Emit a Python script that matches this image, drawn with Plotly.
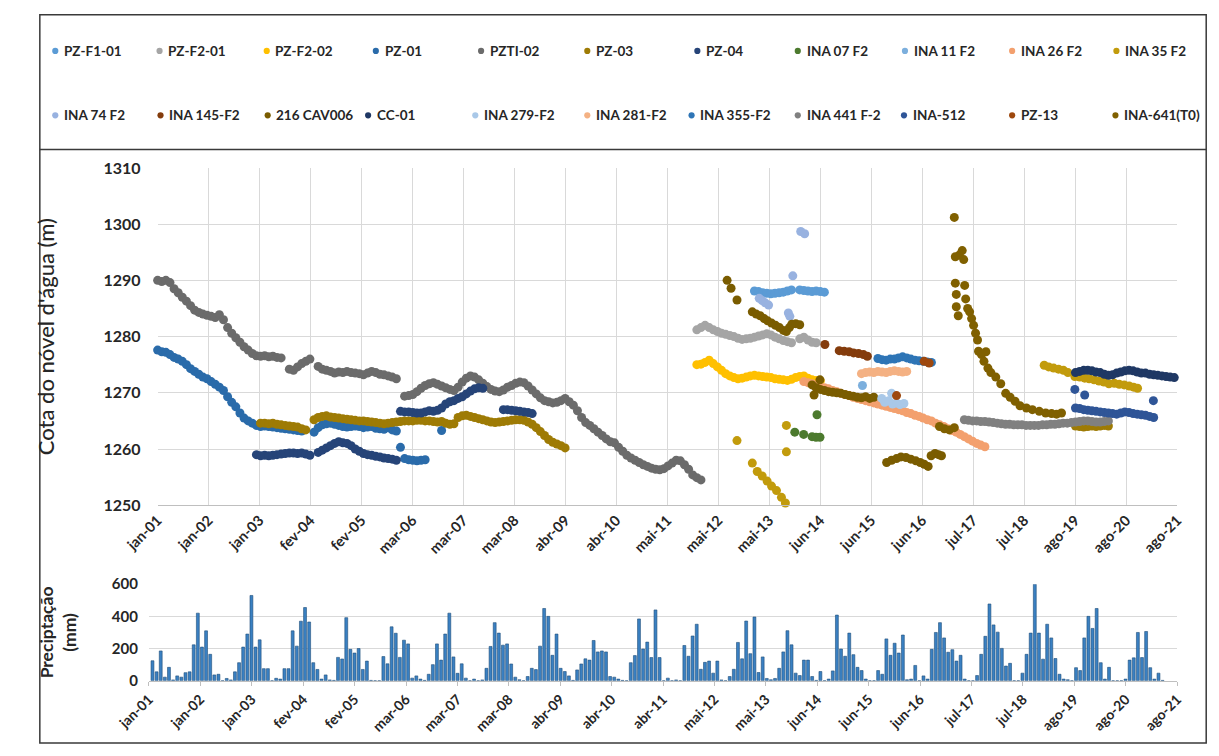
import numpy as np
import plotly.graph_objects as go

# ---------------- axis labels ----------------
level_ticks = ["jan-01", "jan-02", "jan-03", "fev-04", "fev-05", "mar-06", "mar-07",
               "mar-08", "abr-09", "abr-10", "mai-11", "mai-12", "mai-13", "jun-14",
               "jun-15", "jun-16", "jul-17", "jul-18", "ago-19", "ago-20", "ago-21"]
rain_ticks = ["jan-01", "jan-02", "jan-03", "fev-04", "fev-05", "mar-06", "mar-07",
              "mar-08", "abr-09", "abr-10", "abr-11", "mai-12", "mai-13", "jun-14",
              "jun-15", "jun-16", "jul-17", "jul-18", "ago-19", "ago-20", "ago-21"]

# ---------------- water level series (decimal years, metres) ----------------
# monthly blocks: (first month as decimal year, monthly readings; None = no reading)
pzti02_start = 2001.010
pzti02 = [1290.0, 1289.8, 1290.0, 1289.6, 1288.5, 1287.8, 1287.0, 1286.3, 1285.5, 1284.7,
          1284.3, 1284.0, 1283.8, 1283.6, 1283.4, 1283.9, 1283.0, 1281.6, 1280.6, 1279.8,
          1279.0, 1278.2, 1277.6, 1277.0, 1276.6, 1276.5, 1276.6, 1276.4, 1276.5, 1276.3,
          1276.2, None, 1274.2, 1274.0, 1274.6, 1275.2, 1275.6, 1276.0, None, 1274.7,
          1274.2, 1274.0, 1273.8, 1273.5, 1273.7, 1273.6, 1273.8, 1273.6, 1273.5, 1273.4,
          1273.2, 1273.5, 1273.8, 1273.6, 1273.3, 1273.2, 1273.0, 1272.8, 1272.5, None,
          1269.4, 1269.5, 1269.7, 1270.2, 1270.8, 1271.3, 1271.6, 1271.8, 1271.5, 1271.2,
          1270.9, 1270.6, 1270.4, 1271.0, 1271.9, 1272.6, 1273.0, 1272.8, 1272.3, 1271.7,
          1271.1, 1270.6, 1270.3, 1270.2, 1270.5, 1271.0, 1271.3, 1271.7, 1271.9, 1271.8,
          1271.2, 1270.5, 1269.8, 1269.1, 1268.6, 1268.4, 1268.2, 1268.3, 1268.6, 1269.0,
          1268.4, 1267.8, 1266.8, 1265.6, 1264.7, 1264.2, 1263.6, 1263.0, 1262.4, 1261.8,
          1261.3, 1261.1, 1260.3, 1259.6, 1258.9, 1258.4, 1258.0, 1257.6, 1257.2, 1256.9,
          1256.6, 1256.4, 1256.3, 1256.5, 1257.0, 1257.5, 1258.0, 1257.9, 1257.2, 1256.4,
          1255.4, 1254.9, 1254.5]

pz01_start = 2001.010
pz01 = [1277.6, 1277.3, 1277.2, 1276.8, 1276.3, 1276.0, 1275.6, 1275.0, 1274.3, 1273.8,
        1273.3, 1272.8, 1272.5, 1272.0, 1271.5, 1271.0, 1270.4, 1269.3, 1268.3, 1267.5,
        1266.4, 1265.5, 1265.0, 1264.6, 1264.2, 1264.0, 1264.1, 1264.0, 1263.9, 1263.8,
        1263.7, 1263.6, 1263.5, 1263.4, 1263.3, 1263.2, None, None, 1263.0, 1263.8,
        1264.3, 1264.5, 1264.6, 1264.4, 1264.2, 1264.0, 1263.9, 1264.0, 1264.1, 1264.0,
        1263.8, 1263.9, 1264.0, 1263.7, 1263.6, 1263.5, 1263.8, 1263.4, 1263.2, 1260.3,
        1258.3, 1258.1, 1258.0, 1257.9, 1258.0, 1258.1, None, None, None, 1263.3]

pz04_start = 2003.010
pz04 = [1259.0, 1258.8, 1258.9, 1258.8, 1258.9, 1259.0, 1259.1, 1259.2, 1259.3, 1259.3,
        1259.2, 1259.3, 1259.1, 1258.9, None, 1259.4, 1259.8, 1260.2, 1260.6, 1261.0,
        1261.3, 1261.1, 1261.0, 1260.6, 1260.0, 1259.6, 1259.2, 1259.0, 1258.9, 1258.7,
        1258.6, 1258.4, 1258.3, 1258.2, 1258.0, 1266.7, 1266.6, 1266.6, 1266.5, 1266.4,
        1266.4, 1266.6, 1266.8, 1266.7, 1266.9, 1267.3, 1268.0, 1268.4, 1268.6, 1269.0,
        1269.3, 1269.8, 1270.3, 1270.7, 1270.9, 1270.8, None, None, None, None,
        1267.0, 1267.0, 1266.9, 1266.8, 1266.7, 1266.6, 1266.5, 1266.3]

pz03_start = 2003.093
pz03 = [1264.6, 1264.6, 1264.5, 1264.6, 1264.4, 1264.3, 1264.2, 1264.1, 1264.0, 1263.9,
        1263.6, 1263.4, None, 1265.2, 1265.6, 1265.8, 1265.9, 1265.7, 1265.6, 1265.5,
        1265.4, 1265.3, 1265.2, 1265.1, 1265.0, 1265.0, 1264.9, 1264.8, 1264.7, 1264.6,
        1264.5, 1264.6, 1264.7, 1264.8, 1264.9, 1265.0, 1265.0, 1265.0, 1265.1, 1265.1,
        1265.0, 1265.0, 1264.9, 1264.8, 1264.9, 1264.6, 1264.4, 1264.5, 1265.6, 1265.9,
        1266.0, 1265.8, 1265.6, 1265.4, 1265.2, 1265.0, 1264.8, 1264.7, 1264.8, 1264.9,
        1265.0, 1265.1, 1265.2, 1265.2, 1265.1, 1264.8, 1264.4, 1263.8, 1263.1, 1262.4,
        1261.7, 1261.2, 1260.9, 1260.6, 1260.2]
pz03_late_start = 2019.593
pz03_late = [1264.1, 1264.0, 1263.9, 1264.0, 1264.1, 1264.0, 1264.1, 1264.2, 1264.1]

pzf201_start = 2011.927
pzf201 = [1281.2, 1281.6, 1282.0, 1281.6, 1281.2, 1280.9, 1280.6, 1280.4, 1280.2, 1280.0,
          1279.7, 1279.5, 1279.6, 1279.7, 1279.9, 1280.1, 1280.3, 1280.5, 1280.3, 1279.9,
          1279.6, 1279.3, 1279.1, 1278.9, None, 1279.6, 1279.9, 1279.4, 1279.0, 1278.9]

pzf202_start = 2011.927
pzf202 = [1275.0, 1275.1, 1275.4, 1275.8, 1275.2, 1274.6, 1274.0, 1273.4, 1273.0, 1272.7,
          1272.5, 1272.6, 1272.8, 1273.0, 1273.1, 1273.0, 1272.9, 1272.8, 1272.7, 1272.5,
          1272.4, 1272.3, 1272.2, 1272.4, 1272.7, 1272.9, 1273.0, 1272.6, 1272.3, 1272.2,
          1272.1]

pzf101_start = 2013.093
pzf101 = [1288.1, 1288.0, 1287.8, 1287.7, 1287.6, 1287.7, 1287.8, 1287.9, 1288.1, 1288.3,
          None, 1288.3, 1288.2, 1288.1, 1288.0, 1288.1, 1288.0, 1287.9]

ina26_start = 2014.093
ina26 = [1272.0, 1271.8, 1271.6, 1271.3, 1271.1, 1270.9, 1270.7, 1270.4, 1270.2, 1269.9,
         1269.7, 1269.5, 1269.2, 1269.0, 1268.8, 1268.6, 1268.4, 1268.2, 1268.0, 1267.8,
         1267.6, 1267.4, 1267.2, 1267.0, 1266.8, 1266.5, 1266.3, 1266.0, 1265.8, 1265.5,
         1265.2, 1265.0, 1264.6, 1264.3, 1264.0, 1263.6, 1263.3, 1263.0, 1262.6, 1262.2,
         1261.8, 1261.4, 1261.0, 1260.7, 1260.4]

cav_mid_start = 2014.260
cav_mid = [1271.4, 1270.9, 1270.6, 1270.4, 1270.2, 1270.1, 1270.0, 1269.9, 1269.7, 1269.5,
           1269.4, 1269.2, 1269.1, 1269.3, 1269.0, 1269.2]

ina281_start = 2015.260
ina281 = [1273.4, 1273.6, 1273.7, 1273.6, 1273.8, 1273.7, 1273.6, 1273.8, 1273.9, 1273.8,
          1273.7, 1273.8]

ina355_start = 2015.593
ina355 = [1276.1, 1275.9, 1275.8, 1276.0, 1276.0, 1276.2, 1276.4, 1276.2, 1276.0, 1275.8,
          1275.7, 1275.6, 1275.5, 1275.4]

ina441_start = 2017.343
ina441 = [1265.2, 1265.1, 1265.0, 1265.0, 1264.9, 1264.9, 1264.8, 1264.7, 1264.6, 1264.5,
          1264.4, 1264.4, 1264.3, 1264.3, 1264.3, 1264.2, 1264.2, 1264.2, 1264.2, 1264.3,
          1264.3, 1264.4, 1264.4, 1264.5, 1264.6, 1264.6, 1264.7, 1264.8, 1264.9, 1265.0,
          1265.0, 1264.9, 1264.8, 1264.8, 1264.9, 1265.0]

cc01_start = 2019.593
cc01 = [1273.6, 1273.8, 1274.0, 1274.0, 1273.9, 1273.7, 1273.6, 1273.3, 1273.1, 1273.2,
        1273.5, 1273.7, 1273.9, 1274.0, 1273.9, 1273.7, 1273.5, 1273.5, 1273.3, 1273.2,
        1273.1, 1273.0, 1272.9, 1272.8, 1272.7]

ina512_start = 2019.593
ina512 = [1267.3, 1267.2, 1267.0, 1266.9, 1266.8, 1266.7, 1266.6, 1266.5, 1266.4, 1266.3,
          1266.2, 1266.4, 1266.6, 1266.5, 1266.3, 1266.2, 1266.1, 1266.0, 1265.8, 1265.6]

# individual readings: (decimal years, metres)
ina512_pts_t = [2019.58, 2019.78, 2021.17]
ina512_pts = [1270.6, 1269.6, 1268.6]

cav_a_t = [2012.54, 2012.62, 2012.74, 2013.05, 2013.13, 2013.21, 2013.29, 2013.36, 2013.44,
           2013.52, 2013.60, 2013.68, 2013.74, 2013.80, 2013.85, 2013.93, 2014.01]
cav_a = [1290.0, 1288.6, 1286.5, 1284.4, 1284.0, 1283.7, 1283.2, 1282.8, 1282.4,
         1282.0, 1281.6, 1281.1, 1280.9, 1281.6, 1282.2, 1282.3, 1282.1]
cav_b_t = [2014.30, 2014.42]
cav_b = [1269.6, 1272.3]
cav_c_t = [2015.77, 2015.87, 2015.97, 2016.06, 2016.16, 2016.26, 2016.36, 2016.45, 2016.53,
           2016.61, 2016.67, 2016.75, 2016.82, 2016.88]
cav_c = [1257.6, 1258.0, 1258.3, 1258.6, 1258.5, 1258.2, 1257.9, 1257.6, 1257.3,
         1256.9, 1258.8, 1259.2, 1259.0, 1258.8]

ina641_t = [2016.84, 2016.94, 2017.04, 2017.14, 2017.14, 2017.16, 2017.24, 2017.30, 2017.33,
            2017.16, 2017.35, 2017.18, 2017.37, 2017.18, 2017.22, 2017.41, 2017.45, 2017.49,
            2017.53, 2017.57, 2017.61, 2017.63, 2017.69, 2017.74, 2017.78, 2017.82, 2017.88,
            2017.98, 2018.08, 2018.18, 2018.27, 2018.37, 2018.47, 2018.60, 2018.72, 2018.86,
            2018.99, 2019.11, 2019.21, 2019.31]
ina641 = [1264.0, 1263.6, 1263.4, 1263.8, 1301.2, 1294.2, 1294.5, 1295.3, 1293.7,
          1289.5, 1289.1, 1287.5, 1286.7, 1285.3, 1283.7, 1285.0, 1284.4, 1283.2,
          1282.0, 1280.6, 1279.4, 1277.4, 1276.8, 1275.6, 1277.3, 1274.4, 1273.6,
          1272.8, 1271.6, 1269.9, 1269.2, 1268.5, 1267.7, 1267.3, 1267.0, 1266.7,
          1266.4, 1266.3, 1266.2, 1266.4]

ina35_t = [2012.74, 2013.05, 2013.15, 2013.25, 2013.35, 2013.44, 2013.54, 2013.64, 2013.72,
           2013.74, 2013.74, 2018.96, 2019.05, 2019.15, 2019.25, 2019.35, 2019.44, 2019.58,
           2019.68, 2019.78, 2019.87, 2019.97, 2020.07, 2020.17, 2020.27, 2020.38, 2020.48,
           2020.58, 2020.68, 2020.77, 2020.85]
ina35 = [1261.5, 1257.5, 1256.0, 1255.2, 1254.3, 1253.4, 1252.6, 1251.4, 1250.4,
         1264.2, 1259.5, 1274.9, 1274.6, 1274.4, 1274.2, 1274.0, 1273.6, 1272.9,
         1272.8, 1272.6, 1272.5, 1272.3, 1272.1, 1271.9, 1271.6, 1271.7, 1271.5,
         1271.4, 1271.2, 1271.0, 1270.8]

ina145_t = [2014.52, 2014.81, 2014.91, 2015.01, 2015.10, 2015.20, 2015.30, 2015.38]
ina145 = [1278.6, 1277.5, 1277.4, 1277.3, 1277.1, 1277.0, 1276.8, 1276.5]

pz13_t = [2015.97, 2016.53, 2016.63]
pz13 = [1269.5, 1275.6, 1275.3]

ina07_t = [2013.91, 2014.09, 2014.26, 2014.34, 2014.42, 2014.36]
ina07 = [1263.0, 1262.6, 1262.2, 1262.1, 1262.1, 1266.1]

ina11_t = [2015.28]
ina11 = [1271.3]

ina74_t = [2013.19, 2013.25, 2013.31, 2013.38, 2013.78, 2013.81, 2013.87, 2014.03, 2014.11]
ina74 = [1286.8, 1286.4, 1286.0, 1285.6, 1284.2, 1283.6, 1290.8, 1298.7, 1298.3]

ina279_t = [2015.67, 2015.73, 2015.81, 2015.89, 2015.97, 2016.04, 2016.12, 2015.87]
ina279 = [1269.0, 1268.3, 1268.6, 1268.0, 1268.2, 1267.9, 1268.1, 1269.9]

# ---------------- monthly precipitation (mm), Jan 2001 onwards ----------------
precip = [124, 55, 185, 22, 83, 5, 30, 22, 50, 55, 223, 420,
          209, 310, 164, 36, 40, 0, 14, 5, 55, 112, 209, 290,
          530, 209, 254, 75, 75, 0, 15, 10, 75, 75, 310, 215,
          370, 455, 365, 112, 70, 10, 36, 5, 2, 145, 135, 392,
          195, 172, 200, 70, 122, 2, 0, 0, 150, 105, 335, 295,
          145, 252, 229, 16, 30, 10, 2, 40, 100, 229, 128, 290,
          420, 148, 46, 105, 16, 0, 10, 0, 5, 77, 213, 361,
          296, 221, 229, 104, 22, 6, 0, 26, 77, 69, 215, 449,
          400, 158, 290, 77, 57, 30, 2, 67, 104, 136, 128, 250,
          179, 185, 179, 26, 22, 10, 2, 0, 112, 156, 384, 197,
          240, 144, 440, 144, 0, 16, 0, 5, 0, 219, 152, 278,
          351, 71, 114, 122, 47, 122, 5, 0, 26, 71, 238, 136,
          371, 168, 396, 51, 148, 14, 6, 14, 77, 179, 311, 223,
          47, 32, 128, 128, 26, 2, 57, 0, 10, 61, 408, 197,
          152, 296, 162, 83, 63, 10, 0, 0, 63, 40, 260, 158,
          233, 172, 284, 6, 10, 95, 0, 30, 10, 195, 300, 361,
          266, 177, 193, 122, 158, 10, 0, 0, 32, 164, 276, 477,
          347, 302, 201, 91, 108, 0, 0, 47, 164, 296, 600, 296,
          134, 351, 266, 138, 40, 10, 6, 0, 81, 63, 266, 400,
          325, 449, 112, 10, 83, 0, 0, 0, 10, 128, 142, 300,
          144, 306, 81, 10, 47, 2]


def monthly(start, values):
    return [start + i / 12 for i in range(len(values))], list(values)


def join(*parts):
    xs, ys = [], []
    for px, py in parts:
        if xs:
            xs.append(None)
            ys.append(None)
        xs.extend(px)
        ys.extend(py)
    return xs, ys


series = [
    ("PZ-F1-01", "#5B9BD5", join(monthly(pzf101_start, pzf101))),
    ("PZ-F2-01", "#A5A5A5", join(monthly(pzf201_start, pzf201))),
    ("PZ-F2-02", "#FFC000", join(monthly(pzf202_start, pzf202))),
    ("PZ-01", "#2A6BAA", join(monthly(pz01_start, pz01))),
    ("PZTI-02", "#6B6B6B", join(monthly(pzti02_start, pzti02))),
    ("PZ-03", "#9E7B05", join(monthly(pz03_start, pz03), monthly(pz03_late_start, pz03_late))),
    ("PZ-04", "#264478", join(monthly(pz04_start, pz04))),
    ("INA 07 F2", "#4C7A2E", join((ina07_t, ina07))),
    ("INA 11 F2", "#7CAFDD", join((ina11_t, ina11))),
    ("INA 26 F2", "#F3A06E", join(monthly(ina26_start, ina26))),
    ("INA 35 F2", "#C29B0C", join((ina35_t, ina35))),
    ("INA 74 F2", "#98B2E0", join((ina74_t, ina74))),
    ("INA 145-F2", "#843C0C", join((ina145_t, ina145))),
    ("216 CAV006", "#7A5C00", join((cav_a_t, cav_a), monthly(cav_mid_start, cav_mid),
                                   (cav_b_t, cav_b), (cav_c_t, cav_c))),
    ("CC-01", "#1F3864", join(monthly(cc01_start, cc01))),
    ("INA 279-F2", "#A9C8E8", join((ina279_t, ina279))),
    ("INA 281-F2", "#F4B183", join(monthly(ina281_start, ina281))),
    ("INA 355-F2", "#2E75B6", join(monthly(ina355_start, ina355))),
    ("INA 441 F-2", "#808080", join(monthly(ina441_start, ina441))),
    ("INA-512", "#2F5597", join(monthly(ina512_start, ina512), (ina512_pts_t, ina512_pts))),
    ("PZ-13", "#9E480E", join((pz13_t, pz13))),
    ("INA-641(T0)", "#806000", join((ina641_t, ina641))),
]

W, H = 1219, 756
FONT = "Lato"
TXT = "#262626"

fig = go.Figure()
for name, color, (xs, ys) in series:
    fig.add_trace(go.Scatter(x=xs, y=ys, mode="markers", name=name,
                             marker=dict(color=color, size=9, line=dict(width=0)),
                             cliponaxis=False, showlegend=False,
                             xaxis="x", yaxis="y"))

rain_x = [2001 + (i + 0.5) / 12 for i in range(len(precip))]
fig.add_trace(go.Bar(x=rain_x, y=precip, name="Precipitação",
                     marker=dict(color="#3A80C2", line=dict(color="#1F4E79", width=0.6)),
                     showlegend=False, xaxis="x2", yaxis="y2"))

# ---------------- axes ----------------
level_t0 = 2001.01
level_step = 377 / 365.25
level_range = [level_t0, level_t0 + 20 * level_step]
level_tickvals = [level_t0 + k * level_step for k in range(len(level_ticks))]

rain_range = [2000.97, 2021.754]
rain_tickvals = list(np.linspace(rain_range[0], rain_range[1], len(rain_ticks)))

grid = "#D9D9D9"
fig.update_layout(
    width=W, height=H, autosize=False,
    margin=dict(l=0, r=0, t=0, b=0),
    paper_bgcolor="white", plot_bgcolor="white",
    bargap=0.3,
    font=dict(family=FONT, color=TXT),
    xaxis=dict(domain=[127 / W, 1183 / W], range=level_range, anchor="y",
               tickmode="array", tickvals=level_tickvals, ticktext=level_ticks,
               tickangle=-45, ticks="", showgrid=True, gridcolor=grid, gridwidth=1,
               showline=True, linecolor="#BFBFBF", zeroline=False,
               tickfont=dict(family=FONT, size=14.5, color=TXT, weight="bold")),
    yaxis=dict(domain=[1 - 508 / H, 1 - 162 / H], range=[1250, 1310], dtick=10,
               anchor="x", showgrid=True, gridcolor=grid, zeroline=False,
               showline=False, ticks="", ticklabelstandoff=16,
               tickfont=dict(family=FONT, size=16, color=TXT, weight="bold"),
               title=dict(text="Cota do nóvel d'água (m)", standoff=42,
                          font=dict(family=FONT, size=22, color=TXT, weight=500))),
    xaxis2=dict(domain=[118 / W, 1183 / W], range=rain_range, anchor="y2",
                tickmode="array", tickvals=rain_tickvals, ticktext=rain_ticks,
                tickangle=-45, ticks="outside", ticklen=4, tickcolor="#BFBFBF",
                showgrid=False, showline=True, linecolor="#BFBFBF", zeroline=False,
                tickfont=dict(family=FONT, size=14, color=TXT, weight="bold")),
    yaxis2=dict(domain=[1 - 688 / H, 1 - 589 / H], range=[0, 600], dtick=200,
                anchor="x2", showgrid=True, gridcolor=grid, zeroline=False,
                showline=False, ticks="", ticklabelstandoff=10,
                tickfont=dict(family=FONT, size=15, color=TXT, weight="bold"),
                title=dict(text="Preciptação<br>(mm)", standoff=30,
                           font=dict(family=FONT, size=17.5, color=TXT, weight="bold"))),
)

# ---------------- legend box (two rows of markers and names) ----------------
row1_x = [21, 129, 240, 353, 462, 572, 686, 790, 901, 1012, 1120]
row2_x = [21, 130, 241, 345, 456, 572, 680, 790, 900, 1012, 1119]
rows = [(42, row1_x, series[:11]), (108, row2_x, series[11:])]
shapes = []
annotations = []
for cy, xs_, items in rows:
    for cx, (name, color, _) in zip(xs_, items):
        shapes.append(dict(type="circle", xref="paper", yref="paper",
                           x0=(cx - 3.2) / W, x1=(cx + 3.2) / W,
                           y0=1 - (cy + 3.2) / H, y1=1 - (cy - 3.2) / H,
                           fillcolor=color, line=dict(width=0)))
        annotations.append(dict(x=(cx + 7) / W, y=1 - cy / H, xref="paper", yref="paper",
                                text=name, showarrow=False, xanchor="left",
                                yanchor="middle",
                                font=dict(family=FONT, size=13.5, color=TXT, weight="bold")))

# outer frame and separator under the legend
shapes.append(dict(type="rect", xref="paper", yref="paper",
                   x0=5 / W, x1=1213 / W, y0=1 - 752 / H, y1=1 - 5 / H,
                   line=dict(color="#3A3A3A", width=1.5), fillcolor="rgba(0,0,0,0)"))
shapes.append(dict(type="line", xref="paper", yref="paper",
                   x0=5 / W, x1=1213 / W, y0=1 - 143 / H, y1=1 - 143 / H,
                   line=dict(color="#3A3A3A", width=1.5)))

fig.update_layout(shapes=shapes, annotations=annotations)
fig.write_html("out.html")
